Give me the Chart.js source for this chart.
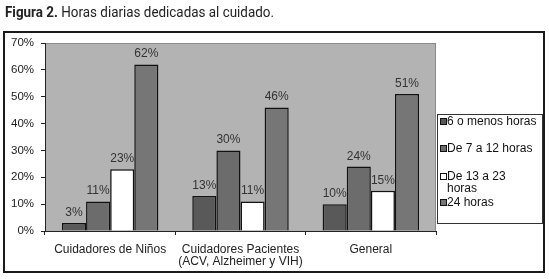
<!DOCTYPE html>
<html>
<head>
<meta charset="utf-8">
<script src="https://cdn.jsdelivr.net/npm/chart.js@4"></script>
<style>
  body { margin: 0; background: #fff; }
  #wrap { width: 549px; height: 279px; }
</style>
</head>
<body>
<div id="wrap"><canvas id="horasChart" width="549" height="279"></canvas></div>
<script>
// Data (percent of carers)
const categories = ['Cuidadores de Niños', ['Cuidadores Pacientes', '(ACV, Alzheimer y VIH)'], 'General'];
const seriesNames = ['6 o menos horas', 'De 7 a 12 horas', ['De 13 a 23', 'horas'], '24 horas'];
const menos6 = [3, 13, 10];
const de7a12 = [11, 30, 24];
const de13a23 = [23, 11, 15];
const horas24 = [62, 46, 51];
const yTicks = [0, 10, 20, 30, 40, 50, 60, 70];

const seriesColors = ['#595959', '#6c6c6c', '#ffffff', '#767676'];
const fontFamily = '"Liberation Sans", Arial, sans-serif';
const labelFont = '12px ' + fontFamily;

// Frame, title and gray plot background
const backgroundPlugin = {
    id: 'background',
    beforeDraw(chart) {
        const ctx = chart.ctx;
        const a = chart.chartArea;
        ctx.save();
        // title
        ctx.fillStyle = '#222';
        ctx.textBaseline = 'alphabetic';
        const bold = 'Figura 2. ';
        const rest = 'Horas diarias dedicadas al cuidado.';
        ctx.font = 'bold 15px Roboto, sans-serif';
        const wBold = ctx.measureText(bold).width;
        ctx.font = '15px Roboto, sans-serif';
        const wRest = ctx.measureText(rest).width;
        const sx = 269 / (wBold + wRest);
        ctx.translate(5, 17);
        ctx.scale(sx, 1);
        ctx.font = 'bold 15px Roboto, sans-serif';
        ctx.fillText(bold, 0, 0);
        ctx.font = '15px Roboto, sans-serif';
        ctx.fillText(rest, wBold, 0);
        ctx.restore();

        ctx.save();
        // outer frame
        ctx.strokeStyle = '#1a1a1a';
        ctx.lineWidth = 2;
        ctx.strokeRect(4, 32, 540, 240);
        // plot area
        ctx.fillStyle = '#b3b3b3';
        ctx.fillRect(a.left, a.top, a.right - a.left, a.bottom - a.top);
        ctx.strokeStyle = '#8a8a8a';
        ctx.lineWidth = 1;
        ctx.strokeRect(a.left + 0.5, a.top + 0.5, a.right - a.left - 1, a.bottom - a.top);
        ctx.restore();
    }
};

// Value labels above each bar
const valueLabels = {
    id: 'valueLabels',
    afterDatasetsDraw(chart) {
        const ctx = chart.ctx;
        ctx.save();
        ctx.font = labelFont;
        ctx.fillStyle = '#333';
        ctx.textAlign = 'center';
        ctx.textBaseline = 'alphabetic';
        chart.data.datasets.forEach((ds, i) => {
            chart.getDatasetMeta(i).data.forEach((bar, j) => {
                ctx.fillText(ds.data[j] + '%', bar.x, bar.y - 7);
            });
        });
        ctx.restore();
    }
};

// Boxed legend on the right, as in the original
const boxLegend = {
    id: 'boxLegend',
    afterDraw(chart) {
        const ctx = chart.ctx;
        ctx.save();
        ctx.fillStyle = '#fff';
        ctx.fillRect(437, 114, 105, 109);
        ctx.strokeStyle = '#333';
        ctx.lineWidth = 1;
        ctx.strokeRect(437.5, 114.5, 105, 109);
        ctx.font = labelFont;
        ctx.textBaseline = 'middle';
        const rows = [122, 149, 177, 203];
        chart.data.datasets.forEach((ds, i) => {
            const y = rows[i];
            ctx.fillStyle = ds.backgroundColor;
            ctx.fillRect(440, y - 3, 6, 6);
            ctx.strokeStyle = '#111';
            ctx.strokeRect(440.5, y - 3.5, 6, 6);
            ctx.fillStyle = '#111';
            const name = [].concat(seriesNames[i]);
            name.forEach((line, k) => ctx.fillText(line, 447, y + k * 12));
        });
        ctx.restore();
    }
};

const datasets = [menos6, de7a12, de13a23, horas24].map((values, i) => ({
    label: [].concat(seriesNames[i]).join(' '),
    data: values,
    backgroundColor: seriesColors[i],
    borderColor: '#111',
    borderWidth: 1.5,
    barPercentage: 1,
    categoryPercentage: 0.74
}));

new Chart(document.getElementById('horasChart').getContext('2d'), {
    type: 'bar',
    data: { labels: categories, datasets: datasets },
    options: {
        responsive: false,
        animation: false,
        layout: { padding: { left: 5, right: 113, top: 43, bottom: 8 } },
        plugins: {
            legend: { display: false },
            tooltip: { enabled: false }
        },
        scales: {
            x: {
                grid: { offset: true, drawOnChartArea: false, drawTicks: true, tickLength: 4, color: '#222' },
                border: { color: '#222' },
                ticks: { color: '#222', font: { family: fontFamily, size: 12, lineHeight: 1 }, padding: 9, maxRotation: 0 },
                afterFit(scale) { scale.height = 40; }
            },
            y: {
                min: yTicks[0],
                max: yTicks[yTicks.length - 1],
                afterBuildTicks(scale) { scale.ticks = yTicks.map(v => ({ value: v })); },
                grid: { drawOnChartArea: false, drawTicks: true, tickLength: 4, color: '#222' },
                border: { color: '#222' },
                ticks: {
                    color: '#222',
                    font: { family: fontFamily, size: 11.5 },
                    padding: 7,
                    callback: v => v + '%'
                },
                afterFit(scale) { scale.width = 40; }
            }
        }
    },
    plugins: [backgroundPlugin, valueLabels, boxLegend]
});
</script>
</body>
</html>
